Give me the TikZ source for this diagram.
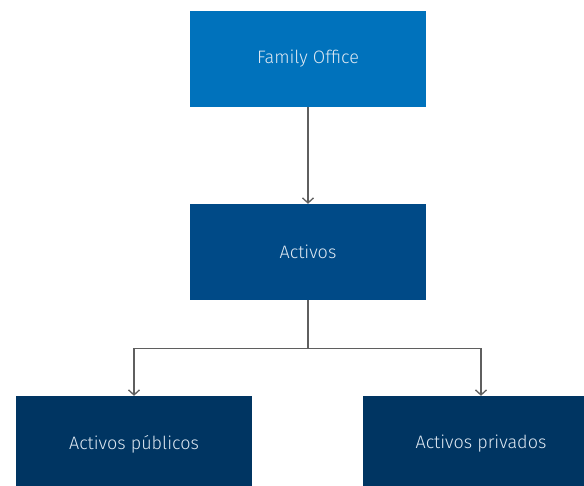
\documentclass[tikz,border=0pt]{standalone}
\usepackage{fontspec}
\setmainfont{Fira Sans Light}
\usepackage{tikz}
\usetikzlibrary{calc}
\usetikzlibrary{arrows,arrows.meta,shapes}
\usetikzlibrary{positioning}
\definecolor{foblue}{RGB}{0,114,188}
\definecolor{actblue}{RGB}{0,74,135}
\definecolor{navy}{RGB}{0,53,98}
\definecolor{boxtext}{RGB}{222,232,242}
\definecolor{wire}{RGB}{95,95,95}
\tikzstyle{box}=[rectangle,minimum width=236pt,minimum height=96pt,inner sep=0,
                text=boxtext,font=\fontsize{18}{21}\selectfont]
\tikzstyle{link}=[draw=wire,line width=1.3pt,->,>={Straight Barb[length=5pt,width=11pt]}]
\begin{document}
\begin{tikzpicture}[x=1pt,y=1pt]
\clip (0,0) rectangle (584,-486);
\node[box,fill=foblue] (fo) at (308,-59){Family Office};
\node[box,fill=actblue] (act) at (308,-252){Activos};
\node[box,fill=navy] (pub) at (134,-444){Activos públicos};
\node[box,fill=navy] (priv) at (481,-444){Activos privados};
\draw [link](fo) -- (act);
\coordinate (split) at ($(act.south)+(0,-48)$);
\draw [link](act.south) -- (split) -| (pub.north);
\draw [link](split) -| (priv.north);
\end{tikzpicture}
\end{document}
